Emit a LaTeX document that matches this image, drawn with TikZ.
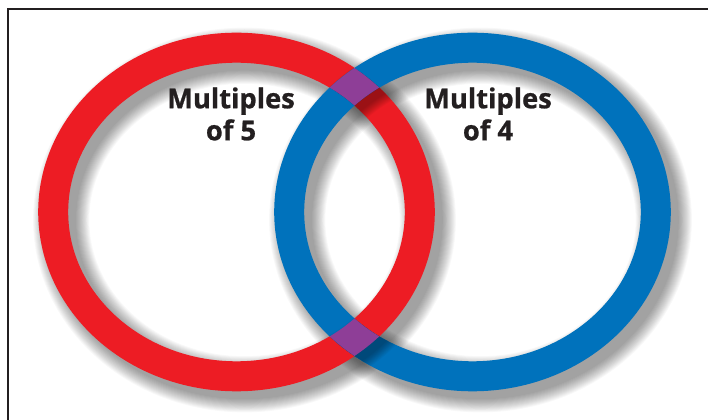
\documentclass[tikz,border=0pt]{standalone}
\usepackage{fontspec}
\newfontfamily\vennfont{Open Sans}[BoldFeatures={FakeBold=0.8}]

\definecolor{vennred}{RGB}{237,28,36}
\definecolor{vennblue}{RGB}{0,114,188}
\definecolor{vennpurple}{RGB}{142,62,151}
\definecolor{inkgray}{RGB}{35,31,32}

\tikzset{every picture/.style={line width=0.75pt}}
\tikzset{
  ring/.style={line width=22.5pt},
  vennlabel/.style={font=\vennfont\bfseries\fontsize{20.5}{24}\selectfont,
    align=center, inner sep=0pt, text=inkgray},
}

\begin{document}
\begin{tikzpicture}[x=0.75pt,y=0.75pt,yscale=-1,xscale=1]
	\useasboundingbox (0,0) rectangle (708,420);
	\clip (0,0) rectangle (708,420);
	\fill[white] (0,0) rectangle (708,420);

	% ring centres
	\coordinate (c5) at (236.5,212);
	\coordinate (c4) at (472.5,212);

	%Shape: Frame, runs off the right and bottom
	\draw[inkgray, line width=1.5pt] (8,440) -- (8,9) -- (730,9);

	%Shadows under both rings
	\foreach \k in {0,...,14}{
		\draw[black, opacity=0.026, line width=22.5pt+1.4pt*\k] ([shift={(8,8)}]c5) ellipse [x radius=183.3, y radius=164.3];
		\draw[black, opacity=0.026, line width=22.5pt+1.4pt*\k] ([shift={(8,8)}]c4) ellipse [x radius=183.3, y radius=164.3];
	}

	%Shape: Rings
	\draw[ring, vennred] (c5) ellipse [x radius=183.3, y radius=164.3];
	\draw[ring, vennblue] (c4) ellipse [x radius=183.3, y radius=164.3];

	% blue throws its shadow on red at the top crossing
	\begin{scope}[even odd rule]
		\clip (0,0) rectangle (708,212);
		\clip (c5) ellipse [x radius=198.5, y radius=179] (c5) ellipse [x radius=168, y radius=149.5];
		\foreach \k in {0,...,10}
			\draw[black, opacity=0.035, line width=22.5pt+1.4pt*\k] ([shift={(6,6)}]c4) ellipse [x radius=183.3, y radius=164.3];
	\end{scope}
	% red throws its shadow on blue at the bottom crossing
	\begin{scope}[even odd rule]
		\clip (0,212) rectangle (708,420);
		\clip (c4) ellipse [x radius=198.5, y radius=179] (c4) ellipse [x radius=168, y radius=149.5];
		\foreach \k in {0,...,10}
			\draw[black, opacity=0.035, line width=22.5pt+1.4pt*\k] ([shift={(6,6)}]c5) ellipse [x radius=183.3, y radius=164.3];
	\end{scope}

	%Shape: Overlaps of the two rings
	\begin{scope}[even odd rule]
		\clip (c4) ellipse [x radius=198.5, y radius=179] (c4) ellipse [x radius=168, y radius=149.5];
		\fill[vennpurple] (c5) ellipse [x radius=198.5, y radius=179] (c5) ellipse [x radius=168, y radius=149.5];
	\end{scope}

	% Text Node
	\node[vennlabel] (lbl5) at (231,114) {Multiples\\of 5};
	% Text Node
	\node[vennlabel] (lbl4) at (488,114) {Multiples\\of 4};

\end{tikzpicture}
\end{document}
